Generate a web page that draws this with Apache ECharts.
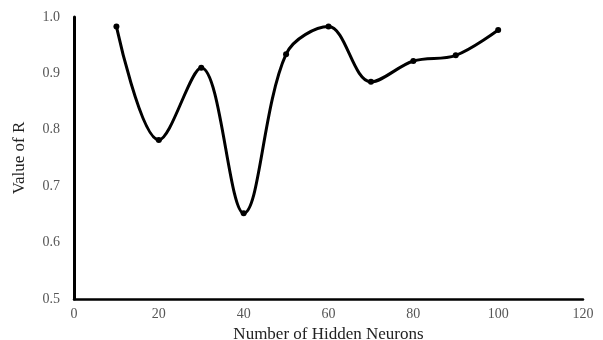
<!DOCTYPE html>
<html>
<head>
<meta charset="utf-8">
<script src="https://cdn.jsdelivr.net/npm/echarts@6/dist/echarts.min.js"></script>
<style>
html,body{margin:0;padding:0;background:#fff;}
#chart{width:603px;height:340px;}
</style>
</head>
<body>
<div id="chart"></div>
<script>
// Hidden neuron counts and the resulting correlation coefficient R
const neurons = [10, 20, 30, 40, 50, 60, 70, 80, 90, 100];
const rValues = [0.983, 0.782, 0.910, 0.652, 0.934, 0.983, 0.885, 0.922, 0.932, 0.977];
const xTicks = { min: 0, max: 120, step: 20 };
const yTicks = { min: 0.5, max: 1.0, step: 0.1 };

const chart = echarts.init(document.getElementById('chart'));
const serif = '"Liberation Serif", "Times New Roman", serif';

chart.setOption({
  animation: false,
  grid: {
    left: 74, right: 20, top: 17, bottom: 41,
    containLabel: false,
    outerBoundsMode: 'none'
  },
  xAxis: {
    type: 'value',
    min: xTicks.min, max: xTicks.max, interval: xTicks.step,
    name: 'Number of Hidden Neurons',
    nameLocation: 'middle',
    nameGap: 22,
    nameTextStyle: { fontFamily: serif, fontSize: 17, color: '#222' },
    axisLine: { lineStyle: { color: '#000', width: 2.5 } },
    axisTick: { show: false },
    splitLine: { show: false },
    axisLabel: { fontFamily: serif, fontSize: 14, color: '#555', margin: 8 }
  },
  yAxis: {
    type: 'value',
    min: yTicks.min, max: yTicks.max, interval: yTicks.step,
    name: 'Value of R',
    nameLocation: 'middle',
    nameGap: 46,
    nameTextStyle: { fontFamily: serif, fontSize: 17, color: '#222' },
    axisLine: { show: true, lineStyle: { color: '#000', width: 3 } },
    axisTick: { show: false },
    splitLine: { show: false },
    axisLabel: {
      fontFamily: serif, fontSize: 14, color: '#555', margin: 14,
      formatter: v => v.toFixed(1)
    }
  },
  series: [{
    type: 'line',
    data: neurons.map((n, i) => [n, rValues[i]]),
    smooth: 0.35,
    symbol: 'circle',
    symbolSize: 6,
    itemStyle: { color: '#000' },
    lineStyle: { color: '#000', width: 3 }
  }]
});
</script>
</body>
</html>
